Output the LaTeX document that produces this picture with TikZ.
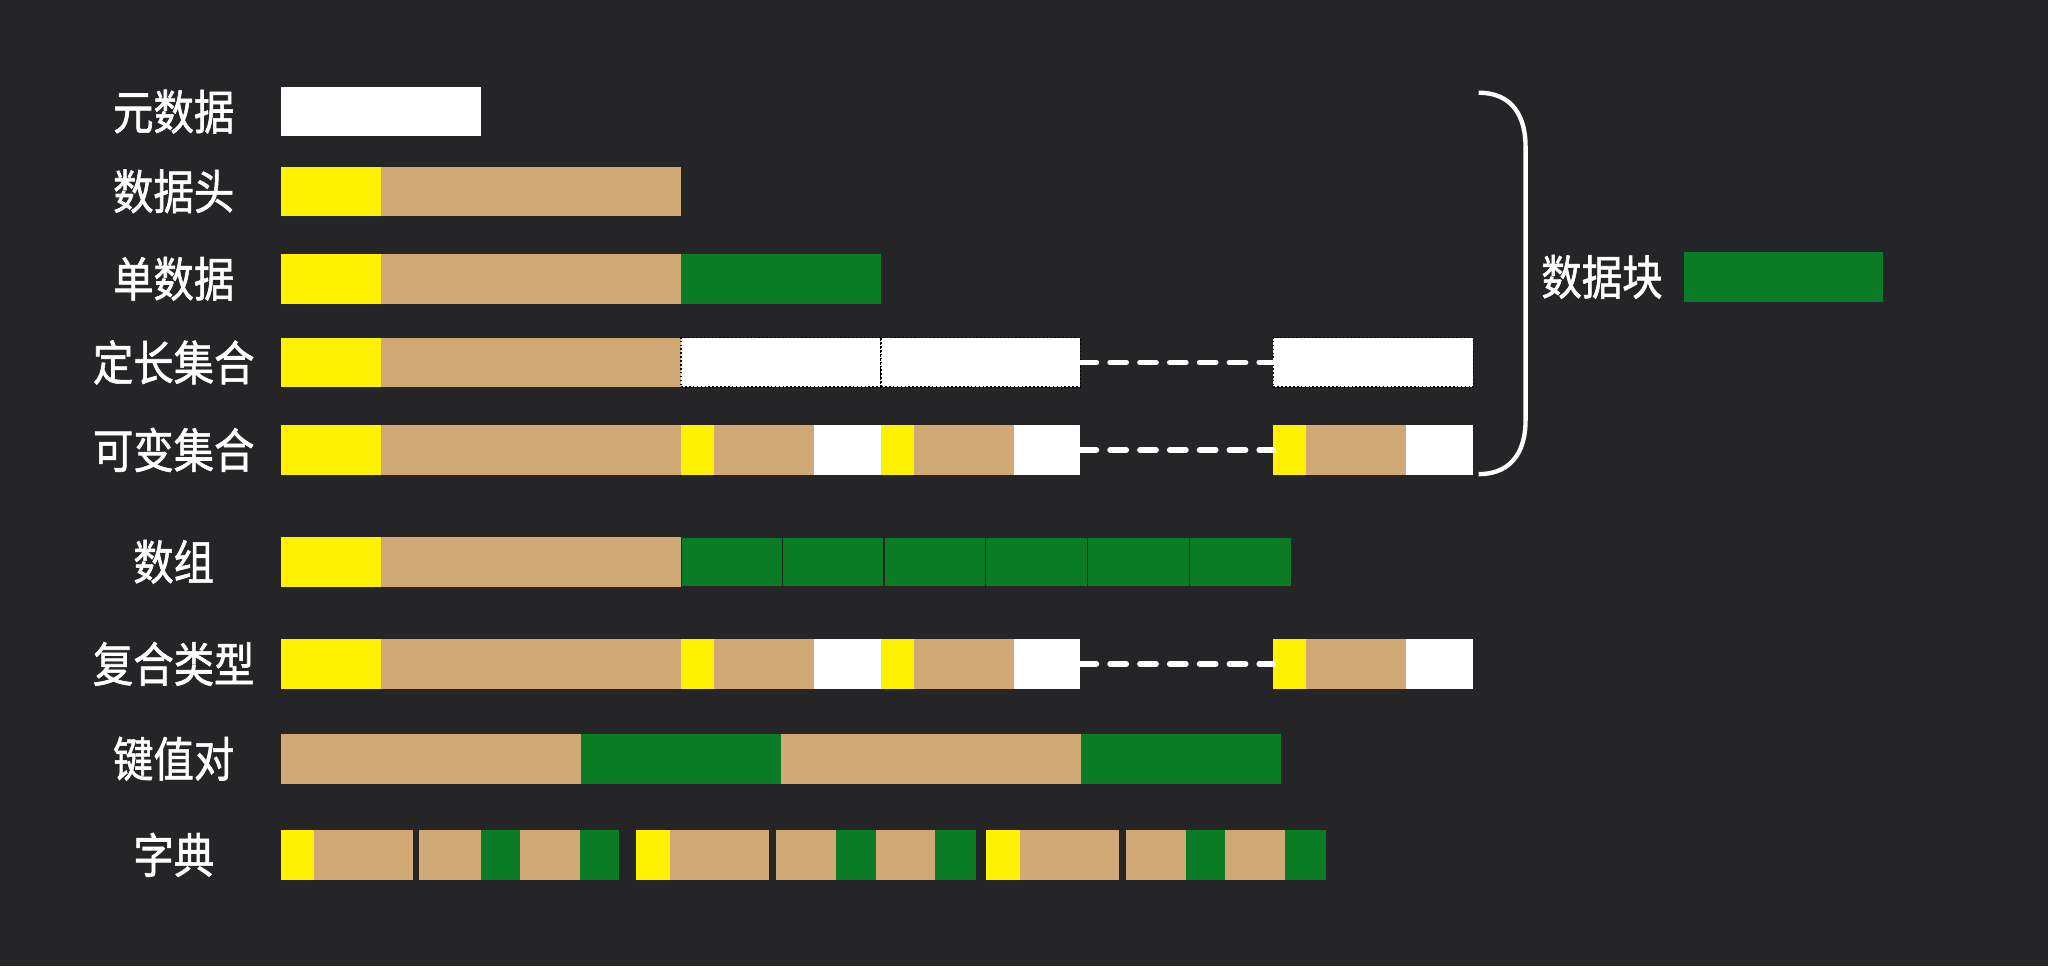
\documentclass[tikz,border=0pt]{standalone}
\usepackage{fontspec}
\newfontfamily\cjk{Noto Sans CJK SC}[FakeStretch=0.85, FakeBold=1.2]
\definecolor{bg}{HTML}{252527}
\definecolor{hdr}{HTML}{FFF200}
\definecolor{body}{HTML}{D0A974}
\definecolor{dat}{HTML}{0B7C26}
\tikzset{
	seg/.style={inner sep=0pt, outer sep=0pt, minimum height=0.76cm},
	hole/.style={fill=white, draw=black, densely dotted, line width=0.7pt},
	lbl/.style={text=white, font=\cjk\fontsize{20.7}{24}\selectfont},
	gap/.style={white, line width=2.5pt, line cap=round, dash pattern=on 7pt off 6pt},
}
% one block of a row: y, x from, x to, look, name
\newcommand\segm[5]{\node[seg, #4, minimum width={(#3-#2)*0.02cm}] (#5) at ({(#2+#3)/2},#1) {};}

\begin{document}
\begin{tikzpicture}[x=0.02cm, y=-0.02cm]
	\fill[bg] (0,0) rectangle (1568,739.6);
	\useasboundingbox (0,0) rectangle (1568,739.6);

	% labels
	\node[lbl] (l-meta) at (133,85.5) {元数据};
	\node[lbl] (l-head) at (133,146.5) {数据头};
	\node[lbl] (l-single) at (133,213.5) {单数据};
	\node[lbl] (l-fixed) at (133,277.5) {定长集合};
	\node[lbl] (l-var) at (133,344.5) {可变集合};
	\node[lbl] (l-array) at (133,430.2) {数组};
	\node[lbl] (l-comp) at (133,508.3) {复合类型};
	\node[lbl] (l-kv) at (133,581) {键值对};
	\node[lbl] (l-dict) at (133,654.5) {字典};

	\segm{85.5}{215.4}{368.5}{fill=white}{meta}
	\foreach \a/\b/\c [count=\i] in {215.4/291.6/hdr, 291.6/521.5/body}
		\segm{146.5}{\a}{\b}{fill=\c}{hd\i};
	\foreach \a/\b/\c [count=\i] in {215.4/291.6/hdr, 291.6/521.5/body, 521.5/674.6/dat}
		\segm{213.5}{\a}{\b}{fill=\c}{sd\i};

	% fixed length set
	\foreach \a/\b/\c [count=\i] in {215.4/291.6/hdr, 291.6/521.5/body}
		\segm{277.5}{\a}{\b}{fill=\c}{fx\i};
	\segm{277.5}{521.5}{674.6}{hole}{fx3}
	\segm{277.5}{674.6}{827.1}{hole}{fx4}
	\segm{277.5}{975}{1128}{hole}{fx5}
	\draw[gap] (fx4.east) -- (fx5.west);

	% variable set and compound type
	\foreach \r/\y in {vr/344.5, cp/508.3} {
		\foreach \a/\b/\c [count=\i] in {215.4/291.6/hdr, 291.6/521.5/body,
			521.5/546.8/hdr, 546.8/623.1/body, 623.1/674.6/white,
			674.6/699.9/hdr, 699.9/776.1/body, 776.1/827.1/white,
			975/1000/hdr, 1000/1076.5/body, 1076.5/1128/white}
			\segm{\y}{\a}{\b}{fill=\c}{\r\i};
		\draw[gap] (\r8.east) -- (\r9.west);
	}

	% array
	\foreach \a/\b/\c [count=\i] in {215.4/291.6/hdr, 291.6/521.5/body}
		\segm{430.2}{\a}{\b}{fill=\c}{ar\i};
	\foreach \a/\b [count=\i] in {521.5/598.9, 598.9/676.8, 676.8/754.7, 754.7/832.6, 832.6/911, 911/988.5}
		\segm{430.2}{\a}{\b}{fill=dat, draw=bg, line width=0.5pt}{el\i};

	% key value
	\foreach \a/\b/\c [count=\i] in {215.4/445/body, 445/598/dat, 598/828/body, 828/981/dat}
		\segm{581}{\a}{\b}{fill=\c}{kv\i};

	% dictionary
	\foreach \a/\b/\c [count=\i] in {215.4/240.6/hdr, 240.6/316.5/body, 321/368/body, 368/398/dat, 398/444/body, 444/474/dat,
		487/513/hdr, 513/589/body, 594/640/body, 640/671/dat, 671/716/body, 716/747/dat,
		755/781/hdr, 781/857/body, 862/908/body, 908/938/dat, 938/984/body, 984/1015/dat}
		\segm{654.5}{\a}{\b}{fill=\c}{dc\i};

	% brace and data block
	\draw[white, line width=1.9pt] (1132,71) .. controls (1160,71) and (1168,92) .. (1168,112)
		-- (1168,322) .. controls (1168,342) and (1160,363) .. (1132,363);
	\node[lbl] (l-block) at (1226.5,212) {数据块};
	\segm{212}{1289.5}{1441.8}{fill=dat}{block}
\end{tikzpicture}
\end{document}
